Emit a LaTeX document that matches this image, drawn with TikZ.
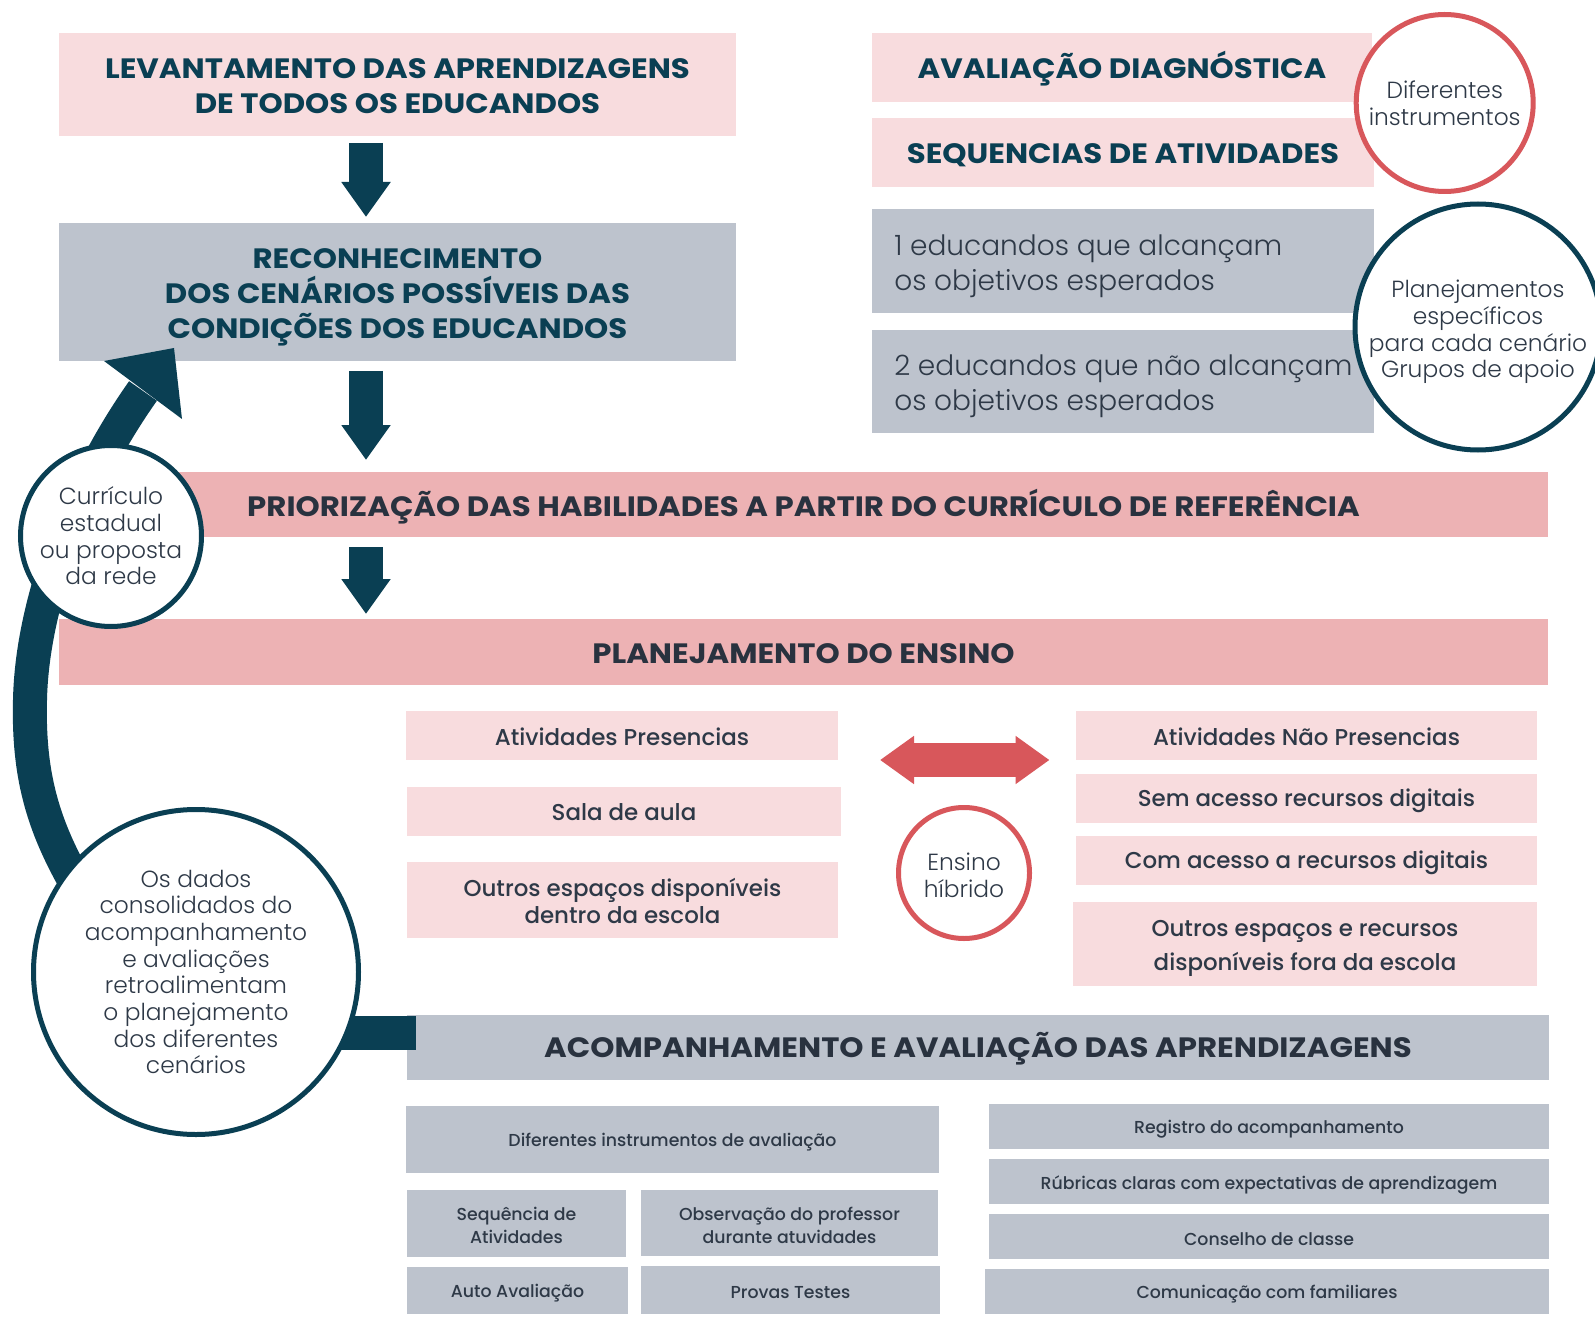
\documentclass[tikz,border=0pt]{standalone}
\usepackage{fontspec}
\newfontfamily\fH{Poppins Bold}[FakeStretch=1.10]
\newfontfamily\fL{Poppins Light}
\newfontfamily\fM{Poppins Medium}
\usetikzlibrary{arrows.meta,calc}
\definecolor{lpink}{HTML}{F8DCDE}
\definecolor{mpink}{HTML}{EDB2B4}
\definecolor{greyb}{HTML}{BDC3CD}
\definecolor{teal}{HTML}{0A3F53}
\definecolor{navy}{HTML}{29323F}
\definecolor{body}{HTML}{2E3947}
\definecolor{redc}{HTML}{D8575B}
% \bx{name}{x1}{y1}{x2}{y2}{box style}{text style}{dy px}{text}
\newcommand\bx[9]{%
  \pgfmathsetmacro\bw{(#4-#2)*0.75}\pgfmathsetmacro\bh{(#5-#3)*0.75}%
  \node[#6, minimum width=\bw pt, minimum height=\bh pt] (#1) at ({(#2+#4)/2},{(#3+#5)/2}) {};
  \node[#7, inner sep=0pt, align=center] (#1t) at ($(#1.center)+(0,#8)$) {#9};}
\begin{document}
\begin{tikzpicture}[x=0.75pt,y=-0.75pt,
  box/.style={inner sep=0pt, outer sep=0pt},
  lp/.style={box, fill=lpink},
  mp/.style={box, fill=mpink},
  gb/.style={box, fill=greyb},
  headT/.style={font=\fH\fontsize{21}{26.25}\selectfont, text=teal},
  headN/.style={font=\fH\fontsize{21}{26.25}\selectfont, text=navy},
  lbl/.style={font=\fM\fontsize{17.2}{20}\selectfont, text=body},
  lblwide/.style={font=\fM\fontsize{17.2}{25.5}\selectfont, text=body},
  small/.style={font=\fM\fontsize{13}{17.2}\selectfont, text=body},
  bodyL/.style={font=\fL\fontsize{21}{26.25}\selectfont, text=body, align=left, inner sep=0pt},
  ringtxt/.style={font=\fL\fontsize{17.5}{20}\selectfont, text=body, align=center, inner sep=0pt},
  ring/.style={circle, fill=white, line width=3.75pt, inner sep=0pt, ringtxt},
  band/.style={draw=teal, line width=25.5pt},
  blockarr/.style={draw=teal, line width=25.9pt, -{Triangle[width=35.25pt,length=26.25pt]}},
  dblarr/.style={draw=redc, line width=25.5pt, {Triangle[width=34.5pt,length=25.5pt]}-{Triangle[width=34.5pt,length=25.5pt]}}
]
\useasboundingbox (0,0) rectangle (1595,1319);
\fill[white] (0,0) rectangle (1595,1319);

% top-left column
\bx{lev}{59}{33}{736}{136}{lp}{headT}{2}{LEVANTAMENTO DAS APRENDIZAGENS\\DE TODOS OS EDUCANDOS}
\bx{rec}{59}{223}{736}{361}{gb}{headT}{5}{RECONHECIMENTO\\DOS CENÁRIOS POSSÍVEIS DAS\\CONDIÇÕES DOS EDUCANDOS}

% top-right column
\bx{aval}{872}{33}{1372}{102}{lp}{headT}{1}{AVALIAÇÃO DIAGNÓSTICA}
\bx{seq}{872}{118}{1374}{187}{lp}{headT}{3}{SEQUENCIAS DE ATIVIDADES}
\bx{ed1}{872}{209}{1374}{313}{gb}{box}{0}{}
\bx{ed2}{872}{330}{1374}{433}{gb}{box}{0}{}
\node[bodyL, anchor=west] (ed1tx) at ($(ed1.west)+(22,5)$) {1 educandos que alcançam\\os objetivos esperados};
\node[bodyL, anchor=west] (ed2tx) at ($(ed2.west)+(22,5)$) {2 educandos que não alcançam\\os objetivos esperados};

% wide bands
\bx{prior}{59}{472}{1548}{537}{mp}{headN}{2}{PRIORIZAÇÃO DAS HABILIDADES A PARTIR DO CURRÍCULO DE REFERÊNCIA}
\bx{plan}{59}{619}{1548}{685}{mp}{headN}{2}{PLANEJAMENTO DO ENSINO}

% planning items
\bx{ap}{406}{711}{838}{760}{lp}{lbl}{1}{Atividades Presencias}
\bx{sala}{407}{787}{841}{836}{lp}{lbl}{1}{Sala de aula}
\bx{out1}{407}{862}{838}{938}{lp}{lbl}{1}{Outros espaços disponíveis\\dentro da escola}
\bx{anp}{1076}{711}{1537}{760}{lp}{lbl}{1}{Atividades Não Presencias}
\bx{sem}{1076}{774}{1537}{823}{lp}{lbl}{2}{Sem acesso recursos digitais}
\bx{com}{1076}{836}{1537}{885}{lp}{lbl}{2}{Com acesso a recursos digitais}
\bx{out2}{1073}{902}{1537}{986}{lp}{lblwide}{4}{Outros espaços e recursos\\disponíveis fora da escola}

% follow-up
\bx{acomp}{407}{1015}{1549}{1080}{gb}{headN}{1}{ACOMPANHAMENTO E AVALIAÇÃO DAS APRENDIZAGENS}
\bx{difinst}{406}{1106}{939}{1173}{gb}{small}{3}{Diferentes instrumentos de avaliação}
\bx{seqat}{407}{1190}{626}{1257}{gb}{small}{2}{Sequência de\\Atividades}
\bx{obs}{641}{1190}{938}{1256}{gb}{small}{2}{Observação do professor\\durante atuvidades}
\bx{auto}{407}{1267}{628}{1314}{gb}{small}{3}{Auto Avaliação}
\bx{provas}{641}{1266}{940}{1314}{gb}{small}{3}{Provas Testes}
\bx{reg}{989}{1104}{1549}{1149}{gb}{small}{3}{Registro do acompanhamento}
\bx{rub}{989}{1159}{1549}{1204}{gb}{small}{3}{Rúbricas claras com expectativas de aprendizagem}
\bx{cons}{989}{1214}{1549}{1259}{gb}{small}{3}{Conselho de classe}
\bx{comun}{985}{1269}{1549}{1314}{gb}{small}{3}{Comunicação com familiares}

% straight block arrows
\coordinate (ax) at (366,0);
\draw[blockarr] ($(lev.south -| ax)+(0,7)$) -- ($(rec.north -| ax)+(0,-6)$);
\draw[blockarr] ($(rec.south -| ax)+(0,10)$) -- ($(prior.north -| ax)+(0,-12)$);
\draw[blockarr] ($(prior.south -| ax)+(0,10)$) -- ($(plan.north -| ax)+(0,-5)$);

% double arrow
\coordinate (dL) at (880,760);
\coordinate (dR) at (1049.5,760);
\draw[dblarr] (dL) -- (dR);

% feedback loop
\coordinate (dadosC) at (196,972);
\coordinate (bandEnd) at (416,1033);
\draw[band] (bandEnd -| dadosC) -- (bandEnd);
\coordinate (c0) at (80,890);
\coordinate (c1) at (30,700);
\coordinate (c2) at (143,391);
\draw[band] (c0) .. controls (45,830) and (28,780) .. (c1)
                 .. controls (32,600) and (80,480) .. (c2);
\coordinate (ahTip) at (174,348);
\coordinate (ahL) at (104,361);
\coordinate (ahR) at (182,419);
\fill[teal] (ahL) -- (ahTip) -- (ahR) -- cycle;

% circles
\node[ring, draw=redc, minimum size=132.75pt] (difi) at (1444.7,103) {Diferentes\\instrumentos};
\node[ring, draw=teal, minimum size=184.5pt] (planc) at (1478,327) {};
\node[ringtxt] (planct) at ($(planc.center)+(0,5)$) {Planejamentos\\específicos\\para cada cenário\\Grupos de apoio};
\node[ring, draw=teal, minimum size=135.75pt] (curr) at (111,536) {Currículo\\estadual\\ou proposta\\da rede};
\node[ring, draw=teal, minimum size=243.75pt] (dados) at (dadosC) {Os dados\\consolidados do\\acompanhamento\\e avaliações\\retroalimentam\\o planejamento\\dos diferentes\\cenários};
\node[ring, draw=redc, minimum size=98.25pt] (ens) at (964,873) {};
\node[ringtxt] (enst) at ($(ens.center)+(0,2)$) {Ensino\\híbrido};
\end{tikzpicture}
\end{document}
